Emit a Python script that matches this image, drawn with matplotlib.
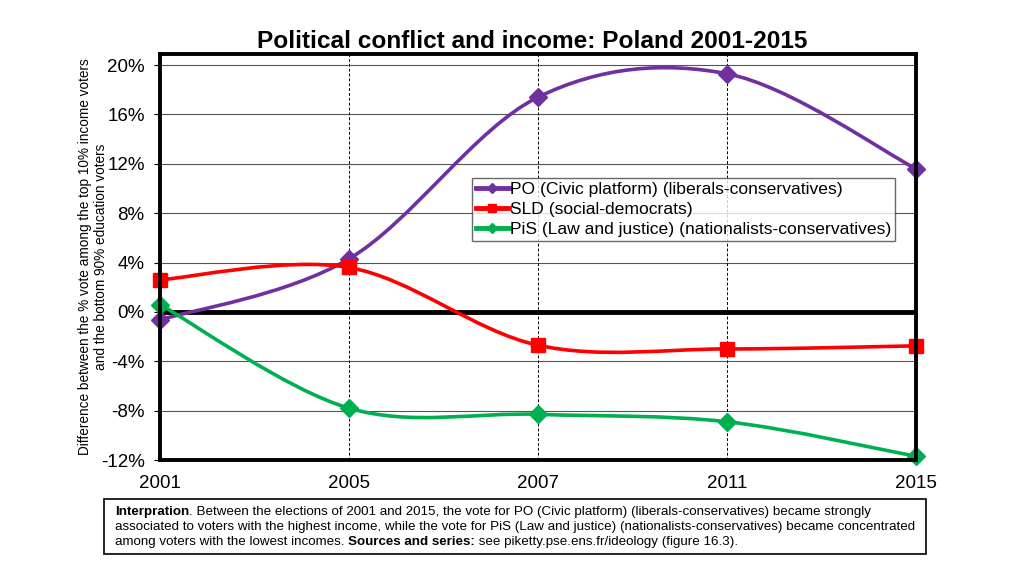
import matplotlib.pyplot as plt
import numpy as np
from matplotlib.path import Path
from matplotlib.patches import PathPatch
from matplotlib.lines import Line2D


YEARS = ["2001", "2005", "2007", "2011", "2015"]

PO_VALUES = [-0.65, 4.3, 17.4, 19.3, 11.6]
SLD_VALUES = [2.6, 3.6, -2.7, -3.0, -2.75]
PIS_VALUES = [0.6, -7.8, -8.3, -8.9, -11.7]

SERIES_LABELS = [
    "PO (Civic platform) (liberals-conservatives)",
    "SLD (social-democrats)",
    "PiS (Law and justice) (nationalists-conservatives)",
]
Y_TICKS = [-12, -8, -4, 0, 4, 8, 12, 16, 20]

plt.rcParams["font.family"] = ["Liberation Sans", "DejaVu Sans"]


def smooth_path(xs, ys):
    # excel-style smoothed line: catmull-rom segments as cubic beziers
    pts = np.column_stack([xs, ys]).astype(float)
    padded = np.vstack([pts[0], pts, pts[-1]])
    verts = [pts[0]]
    codes = [Path.MOVETO]
    for i in range(1, len(padded) - 2):
        p0, p1, p2, p3 = padded[i - 1], padded[i], padded[i + 1], padded[i + 2]
        c1 = p1 + (p2 - p0) / 6
        c2 = p2 - (p3 - p1) / 6
        verts += [c1, c2, p2]
        codes += [Path.CURVE4] * 3
    return Path(verts, codes)


def draw_series(ax, values, color, marker, msize):
    xs = np.arange(len(values))
    patch = PathPatch(smooth_path(xs, values), facecolor="none",
                      edgecolor=color, lw=2.6, zorder=4, clip_on=False)
    ax.add_patch(patch)
    ax.plot(xs, values, ls="none", marker=marker, ms=msize, color=color,
            zorder=5, clip_on=False)
    return Line2D([], [], color=color, lw=3.5, marker=marker, ms=msize * 0.6)


def draw_note(fig):
    renderer = fig.canvas.get_renderer()
    fam = ["Liberation Sans Narrow", "Liberation Sans", "DejaVu Sans"]
    lines = [
        [("Interpration", "bold"),
         (". Between the elections of 2001 and 2015, the vote for PO (Civic platform) "
          "(liberals-conservatives) became strongly", "normal")],
        [("associated to voters with the highest income, while the vote for PiS (Law and justice) "
          "(nationalists-conservatives) became concentrated", "normal")],
        [("among voters with the lowest incomes. ", "normal"),
         ("Sources and series:", "bold"),
         (" see piketty.pse.ens.fr/ideology (figure 16.3).", "normal")],
    ]
    y_px = [512, 527, 542]
    for parts, yp in zip(lines, y_px):
        x = 115 / 1024
        for txt, weight in parts:
            t = fig.text(x, 1 - yp / 576, txt, fontsize=9.6, fontweight=weight,
                         family=fam, va="center", ha="left")
            bb = t.get_window_extent(renderer=renderer)
            x += bb.width / fig.bbox.width
    box = plt.Rectangle((104 / 1024, 1 - 554 / 576), 822 / 1024, 55 / 576,
                        transform=fig.transFigure, fill=False, lw=1.2,
                        edgecolor="black")
    fig.patches.append(box)


def main():
    fig = plt.figure(figsize=(10.24, 5.76), dpi=100)
    ax = fig.add_axes([160 / 1024, 1 - 460 / 576, 756 / 1024, 406 / 576])

    ax.set_xlim(0, len(YEARS) - 1)
    ax.set_ylim(-12, 20.9)

    for y in Y_TICKS:
        ax.axhline(y, color="#555555", lw=0.8, zorder=1)
    for x in range(1, len(YEARS) - 1):
        ax.axvline(x, color="black", lw=0.7, ls=(0, (3, 2)), zorder=1)
    ax.axhline(0, color="black", lw=3.5, zorder=3)

    handles = [
        draw_series(ax, PO_VALUES, "#7030A0", "D", 9),
        draw_series(ax, SLD_VALUES, "#FF0000", "s", 10),
        draw_series(ax, PIS_VALUES, "#00B050", "D", 9),
    ]

    ax.set_xticks(range(len(YEARS)))
    ax.set_xticklabels(YEARS, fontsize=13.5)
    ax.set_yticks(Y_TICKS)
    ax.set_yticklabels([f"{v}%" for v in Y_TICKS], fontsize=13.5)
    ax.tick_params(axis="x", length=0, pad=11)
    ax.tick_params(axis="y", length=4, width=0.8, pad=7)
    for side in ax.spines.values():
        side.set_linewidth(2.8)
        side.set_zorder(6)

    ax.set_ylabel("Difference between the % vote among the top 10% income voters\n"
                  "and the bottom 90% education voters", fontsize=9.8, labelpad=-5)

    leg = ax.legend(handles, SERIES_LABELS, loc="upper left",
                    bbox_to_anchor=((472 - 160) / 756, (460 - 178) / 406),
                    fontsize=12.6, frameon=True, fancybox=False,
                    handlelength=1.9, handletextpad=0.1, borderpad=0.2,
                    labelspacing=0.28, borderaxespad=0)
    leg.get_frame().set_edgecolor("#444444")
    leg.get_frame().set_linewidth(1.0)
    leg.set_zorder(7)

    fig.text(532 / 1024, 1 - 41 / 576, "Political conflict and income: Poland 2001-2015",
             fontsize=17.6, fontweight="bold", ha="center", va="center")

    draw_note(fig)

    fig.savefig("out.png", dpi=100)
    plt.close(fig)


if __name__ == "__main__":
    main()
